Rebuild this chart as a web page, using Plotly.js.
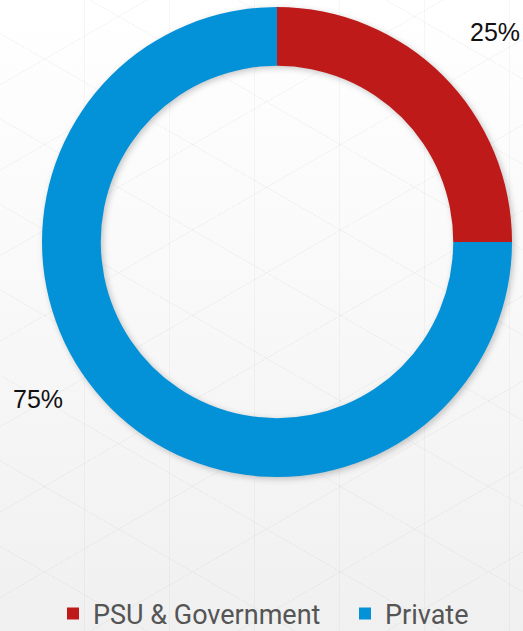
<!DOCTYPE html>
<html>
<head>
<meta charset="utf-8">
<script src="https://cdn.plot.ly/plotly-3.0.1.min.js"></script>
<style>
html,body{margin:0;padding:0;}
html{width:523px;height:631px;overflow:hidden;}
body{width:523px;height:631px;overflow:hidden;
background:
 repeating-linear-gradient(90deg, rgba(0,0,0,0) 0px, rgba(0,0,0,0) 84px, rgba(0,0,0,0.03) 84px, rgba(0,0,0,0.03) 85px),
 repeating-linear-gradient(30deg, rgba(0,0,0,0) 0px, rgba(0,0,0,0) 73px, rgba(0,0,0,0.03) 73px, rgba(0,0,0,0.03) 74px),
 repeating-linear-gradient(150deg, rgba(0,0,0,0) 0px, rgba(0,0,0,0) 73px, rgba(0,0,0,0.03) 73px, rgba(0,0,0,0.03) 74px),
 linear-gradient(180deg, #ffffff 0%, #f9f9f9 45%, #f0f0f0 100%);}
#chart{width:580px;height:631px;}
.pielayer{filter: drop-shadow(2px 2px 3px rgba(0,0,0,0.22));}
</style>
</head>
<body>
<div id="chart"></div>
<script>
var categories = ["PSU & Government", "Private"];
var shares = [25, 75];
var colors = ["#BE1A1A", "#0391D8"];

// layout is a bit wider than the window so the legend keeps both entries on one row
var W = 580, H = 631;
var trace = {
  type: "pie",
  labels: categories,
  values: shares,
  sort: false,
  direction: "clockwise",
  rotation: 0,
  hole: 0.75,
  textinfo: "none",
  hoverinfo: "label+percent",
  marker: {colors: colors, line: {width: 0}},
  domain: {x: [42 / W, 512 / W], y: [(H - 477) / H, (H - 7) / H]}
};

var annotations = [
  {x: 495 / W, y: (H - 32) / H, text: shares[0] + "%"},
  {x: 38 / W, y: (H - 399) / H, text: shares[1] + "%"}
].map(function (a) {
  return {x: a.x, y: a.y, xref: "paper", yref: "paper", text: a.text, showarrow: false,
    xanchor: "center", yanchor: "middle",
    font: {family: "Liberation Sans, Arial, sans-serif", size: 25, color: "#111111"}};
});

var layout = {
  width: W, height: H,
  margin: {l: 0, r: 0, t: 0, b: 0, autoexpand: false},
  paper_bgcolor: "rgba(0,0,0,0)",
  plot_bgcolor: "rgba(0,0,0,0)",
  showlegend: true,
  legend: {orientation: "h", x: 53 / W, xanchor: "left", y: (H - 614) / H, yanchor: "middle",
    font: {family: "Roboto, sans-serif", size: 27, color: "#555555"},
    bgcolor: "rgba(0,0,0,0)", entrywidth: 247, entrywidthmode: "pixels", traceorder: "normal"},
  annotations: annotations
};

Plotly.newPlot("chart", [trace], layout, {displayModeBar: false, staticPlot: true});
</script>
</body>
</html>
